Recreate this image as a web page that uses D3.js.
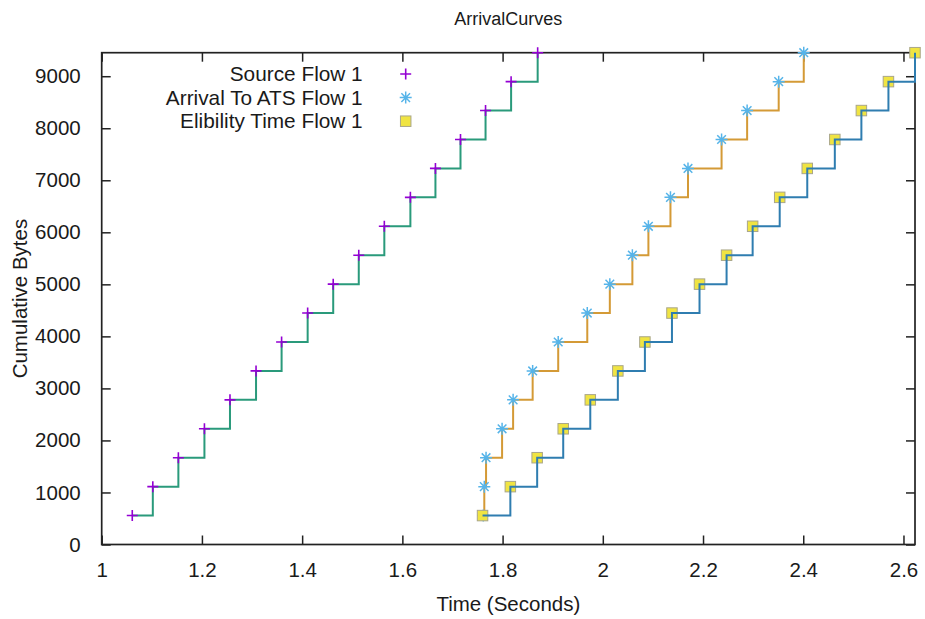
<!DOCTYPE html>
<html>
<head>
<meta charset="utf-8">
<script src="https://cdn.jsdelivr.net/npm/d3@7"></script>
<style>
  html, body { margin: 0; padding: 0; background: #fff; }
  svg { display: block; }
  text { font-family: "Liberation Sans", Arial, Helvetica, sans-serif; fill: #1a1a1a; }
</style>
</head>
<body>
<svg id="chart" width="925" height="619"></svg>
<script>
// Cumulative byte count reached at each packet (one packet = 556 bytes)
const cumulativeBytes = [556, 1112, 1668, 2224, 2780, 3336, 3892, 4448, 5004,
  5560, 6116, 6672, 7228, 7784, 8340, 8896, 9452];

// Packet times (seconds) for each curve
const sourceTimes = [1.061, 1.102, 1.153, 1.205, 1.256, 1.308, 1.359, 1.411, 1.462,
  1.513, 1.564, 1.616, 1.666, 1.716, 1.766, 1.817, 1.870];
const arrivalTimes = [1.7615, 1.7635, 1.767, 1.799, 1.821, 1.860, 1.911, 1.969, 2.014,
  2.059, 2.091, 2.135, 2.170, 2.237, 2.288, 2.351, 2.401];
const eligibilityTimes = [1.760, 1.8155, 1.869, 1.921, 1.975, 2.030, 2.084, 2.138, 2.193,
  2.247, 2.299, 2.353, 2.408, 2.463, 2.516, 2.570, 2.623];

const seriesNames = ["Source Flow 1", "Arrival To ATS Flow 1", "Elibility Time Flow 1"];

const xTicks = [1, 1.2, 1.4, 1.6, 1.8, 2, 2.2, 2.4, 2.6];
const xTickLabels = ["1", "1.2", "1.4", "1.6", "1.8", "2", "2.2", "2.4", "2.6"];
const yTicks = [0, 1000, 2000, 3000, 4000, 5000, 6000, 7000, 8000, 9000];
const yTickLabels = ["0", "1000", "2000", "3000", "4000", "5000", "6000", "7000", "8000", "9000"];

const titleText = "ArrivalCurves";
const xTitle = "Time (Seconds)";
const yTitle = "Cumulative Bytes";

// ---- layout ----
const plot = { left: 101.7, right: 915, top: 52.7, bottom: 544.5 };
const colors = {
  sourcePt: "#9400d3", sourceLine: "#2a9a7b",
  arrivalPt: "#56b4e9", arrivalLine: "#d49a36",
  eligPt: "#f0e442", eligEdge: "#a9a68a", eligLine: "#2f7db0"
};

const svg = d3.select("#chart");

const x = d3.scaleLinear()
  .domain([1, d3.max(eligibilityTimes)])
  .range([plot.left, plot.right]);
const y = d3.scaleLinear()
  .domain([0, d3.max(cumulativeBytes)])
  .range([plot.bottom, plot.top]);

const zip = times => times.map((t, i) => ({ t, v: cumulativeBytes[i] }));
const sourceData = zip(sourceTimes);
const arrivalData = zip(arrivalTimes);
const eligData = zip(eligibilityTimes);

const stepLine = d3.line().x(d => x(d.t)).y(d => y(d.v)).curve(d3.curveStepAfter);

// ---- axes (inward ticks on all four sides) ----
const tickLen = 9;
const axisG = svg.append("g");

const bottomAxis = d3.axisBottom(x).tickValues(xTicks)
  .tickFormat((d, i) => xTickLabels[i]).tickSizeInner(-tickLen).tickSizeOuter(0).tickPadding(18);
const topAxis = d3.axisTop(x).tickValues(xTicks).tickFormat("").tickSizeInner(-tickLen).tickSizeOuter(0);
const leftAxis = d3.axisLeft(y).tickValues(yTicks)
  .tickFormat((d, i) => yTickLabels[i]).tickSizeInner(-tickLen).tickSizeOuter(0).tickPadding(21);
const rightAxis = d3.axisRight(y).tickValues(yTicks).tickFormat("").tickSizeInner(-tickLen).tickSizeOuter(0);

function styleAxis(g) {
  g.select(".domain").remove();
  g.selectAll(".tick line").attr("stroke", "#222").attr("stroke-width", 1.5);
  g.selectAll(".tick text").attr("fill", "#1a1a1a")
    .style("font-family", "'Liberation Sans', Arial, sans-serif").style("font-size", "20.5px");
}

axisG.append("g").attr("transform", `translate(0,${plot.bottom})`).call(bottomAxis).call(styleAxis);
axisG.append("g").attr("transform", `translate(0,${plot.top})`).call(topAxis).call(styleAxis);
axisG.append("g").attr("transform", `translate(${plot.left},0)`).call(leftAxis).call(styleAxis);
axisG.append("g").attr("transform", `translate(${plot.right},0)`).call(rightAxis).call(styleAxis);

// plot border
svg.append("rect")
  .attr("x", plot.left).attr("y", plot.top)
  .attr("width", plot.right - plot.left).attr("height", plot.bottom - plot.top)
  .attr("fill", "none").attr("stroke", "#222").attr("stroke-width", 1.7);

// ---- titles ----
svg.append("text").attr("x", (plot.left + plot.right) / 2).attr("y", 25)
  .attr("text-anchor", "middle").style("font-size", "18px").text(titleText);
svg.append("text").attr("x", (plot.left + plot.right) / 2).attr("y", 611)
  .attr("text-anchor", "middle").style("font-size", "20.5px").text(xTitle);
svg.append("text")
  .attr("transform", `translate(27,${(plot.top + plot.bottom) / 2}) rotate(-90)`)
  .attr("text-anchor", "middle").style("font-size", "20.5px").text(yTitle);

// ---- marker shapes ----
function plus(g, cx, cy, r) {
  g.append("path").attr("d", `M${cx - r},${cy}H${cx + r}M${cx},${cy - r}V${cy + r}`)
    .attr("stroke", colors.sourcePt).attr("stroke-width", 1.6).attr("fill", "none");
}
function star(g, cx, cy, r) {
  const d = r * 0.72;
  g.append("path")
    .attr("d", `M${cx - r},${cy}H${cx + r}M${cx},${cy - r}V${cy + r}` +
      `M${cx - d},${cy - d}L${cx + d},${cy + d}M${cx - d},${cy + d}L${cx + d},${cy - d}`)
    .attr("stroke", colors.arrivalPt).attr("stroke-width", 1.5).attr("fill", "none");
}
function square(g, cx, cy, s) {
  g.append("rect").attr("x", cx - s / 2).attr("y", cy - s / 2).attr("width", s).attr("height", s)
    .attr("fill", colors.eligPt).attr("stroke", colors.eligEdge).attr("stroke-width", 1);
}

// ---- data layers ----
const dataG = svg.append("g");

dataG.append("path").datum(sourceData).attr("d", stepLine)
  .attr("fill", "none").attr("stroke", colors.sourceLine).attr("stroke-width", 2);
const srcPts = dataG.append("g");
sourceData.forEach(d => plus(srcPts, x(d.t), y(d.v), 5.5));

dataG.append("path").datum(arrivalData).attr("d", stepLine)
  .attr("fill", "none").attr("stroke", colors.arrivalLine).attr("stroke-width", 2);
const arrPts = dataG.append("g");
arrivalData.forEach(d => star(arrPts, x(d.t), y(d.v), 6));

const elgPts = dataG.append("g");
eligData.forEach(d => square(elgPts, x(d.t), y(d.v), 10.5));
dataG.append("path").datum(eligData).attr("d", stepLine)
  .attr("fill", "none").attr("stroke", colors.eligLine).attr("stroke-width", 2);

// ---- legend ----
const legend = svg.append("g");
const legendRows = [
  { name: seriesNames[0], draw: (g, cx, cy) => plus(g, cx, cy, 5.5) },
  { name: seriesNames[1], draw: (g, cx, cy) => star(g, cx, cy, 6) },
  { name: seriesNames[2], draw: (g, cx, cy) => square(g, cx, cy, 10.5) }
];
legendRows.forEach((row, i) => {
  const cy = 74 + i * 23.6;
  legend.append("text").attr("x", 362.7).attr("y", cy + 7)
    .attr("text-anchor", "end").style("font-size", "20.8px").text(row.name);
  row.draw(legend, 405.7, cy);
});
</script>
</body>
</html>
